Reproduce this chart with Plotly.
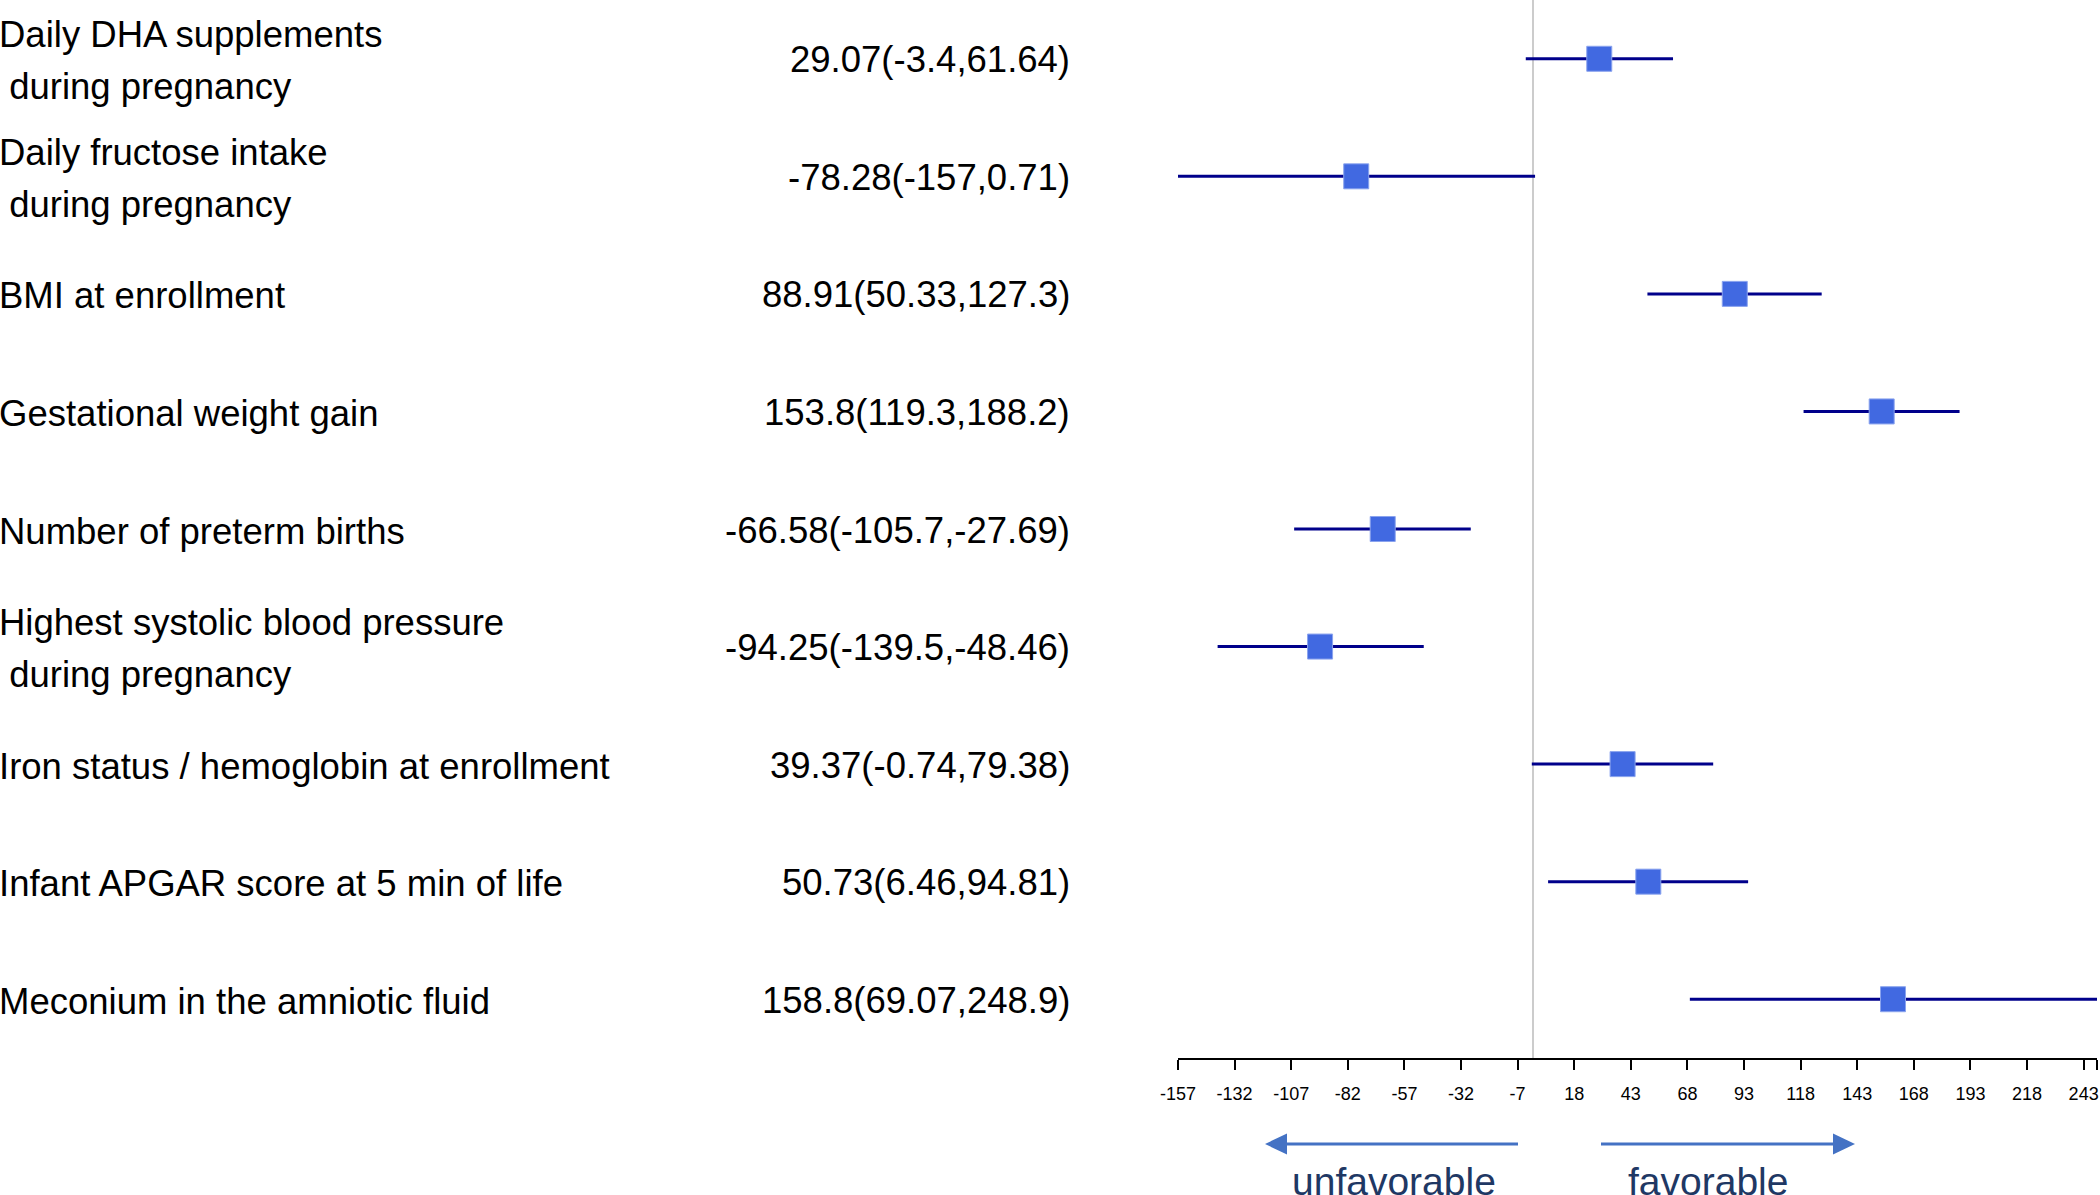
import plotly.graph_objects as go

# ---------------- data ----------------
labels = [
    "Daily DHA supplements\n\u00a0during pregnancy",
    "Daily fructose intake\n\u00a0during pregnancy",
    "BMI at enrollment",
    "Gestational weight gain",
    "Number of preterm births",
    "Highest systolic blood pressure\n\u00a0during pregnancy",
    "Iron status / hemoglobin at enrollment",
    "Infant APGAR score at 5 min of life",
    "Meconium in the amniotic fluid",
]
estimate = [29.07, -78.28, 88.91, 153.8, -66.58, -94.25, 39.37, 50.73, 158.8]
lower = [-3.4, -157, 50.33, 119.3, -105.7, -139.5, -0.74, 6.46, 69.07]
upper = [61.64, 0.71, 127.3, 188.2, -27.69, -48.46, 79.38, 94.81, 248.9]

tick_values = [-157, -132, -107, -82, -57, -32, -7, 18, 43, 68, 93, 118, 143, 168, 193, 218, 243, 248.9]
tick_labels = ["-157", "-132", "-107", "-82", "-57", "-32", "-7", "18", "43", "68", "93",
               "118", "143", "168", "193", "218", "243", ""]
x_range = [-157, 248.9]

# ---------------- layout geometry ----------------
W, H = 2100, 1195
ML, MR, MT, MB = 1178, 3, 0, 137
PW = W - ML - MR
PH = H - MT - MB
FONT = "Liberation Sans, Arial, sans-serif"


def px2x(px):
    return (px - ML) / PW


def px2y(py):
    return (MT + PH - py) / PH


rows = list(range(len(labels)))
ci_text = [f"{e:g}({lo:g},{hi:g})" for e, lo, hi in zip(estimate, lower, upper)]

fig = go.Figure()
fig.add_trace(go.Scatter(
    x=estimate, y=rows, mode="markers",
    marker=dict(symbol="square", size=25, color="#4169E1",
                line=dict(color="#8aa3ee", width=1)),
    error_x=dict(type="data", symmetric=False,
                 array=[u - e for u, e in zip(upper, estimate)],
                 arrayminus=[e - l for e, l in zip(estimate, lower)],
                 width=0, thickness=3, color="#00008B"),
    cliponaxis=False, showlegend=False, hoverinfo="skip",
))

annotations = []
for i, (lab, txt) in enumerate(zip(labels, ci_text)):
    lines = lab.split("\n")
    if len(lines) == 1:
        shifts = [-2]
    else:
        shifts = [24, -28]
    for ln, sh in zip(lines, shifts):
        annotations.append(dict(
            x=px2x(-3), xref="paper", y=i, yref="y", yshift=sh,
            text=ln, showarrow=False, xanchor="left", yanchor="middle",
            font=dict(family=FONT, size=36.5, color="black"),
        ))
    annotations.append(dict(
        x=px2x(1072), xref="paper", y=i, yref="y", yshift=-1,
        text=txt, showarrow=False, xanchor="right", yanchor="middle",
        font=dict(family=FONT, size=36.5, color="black"),
    ))

# direction captions
for txt, cx in [("unfavorable", 1394), ("favorable", 1708)]:
    annotations.append(dict(
        x=px2x(cx), xref="paper", y=px2y(1181), yref="paper",
        text=txt, showarrow=False, xanchor="center", yanchor="middle",
        font=dict(family=FONT, size=39, color="#1F3864"),
    ))

arrow_col = "#4472C4"
ay = 1144
shapes = [
    # left arrow
    dict(type="line", xref="paper", yref="paper",
         x0=px2x(1518), x1=px2x(1284), y0=px2y(ay), y1=px2y(ay),
         line=dict(color=arrow_col, width=3)),
    dict(type="path", xref="paper", yref="paper",
         path=f"M {px2x(1265)} {px2y(ay)} L {px2x(1287)} {px2y(ay - 10.5)} "
              f"L {px2x(1287)} {px2y(ay + 10.5)} Z",
         fillcolor=arrow_col, line=dict(color=arrow_col, width=0)),
    # right arrow
    dict(type="line", xref="paper", yref="paper",
         x0=px2x(1601), x1=px2x(1835), y0=px2y(ay), y1=px2y(ay),
         line=dict(color=arrow_col, width=3)),
    dict(type="path", xref="paper", yref="paper",
         path=f"M {px2x(1855)} {px2y(ay)} L {px2x(1833)} {px2y(ay - 10.5)} "
              f"L {px2x(1833)} {px2y(ay + 10.5)} Z",
         fillcolor=arrow_col, line=dict(color=arrow_col, width=0)),
]

fig.update_layout(
    width=W, height=H,
    margin=dict(l=ML, r=MR, t=MT, b=MB, pad=0),
    paper_bgcolor="white", plot_bgcolor="white",
    annotations=annotations, shapes=shapes,
    font=dict(family=FONT, color="black"),
    xaxis=dict(range=x_range, tickvals=tick_values, ticktext=tick_labels,
               showgrid=False, zeroline=True, zerolinecolor="#cccccc", zerolinewidth=2,
               showline=True, linecolor="black", linewidth=2,
               ticks="outside", ticklen=10, tickwidth=2, tickcolor="black",
               ticklabelstandoff=8,
               tickfont=dict(family=FONT, size=18, color="black"),
               fixedrange=True),
    yaxis=dict(range=[8.5, -0.5], showgrid=False, zeroline=False, showline=False,
               showticklabels=False, ticks="", fixedrange=True),
)

fig.write_html(
    "out.html",
    config={"displayModeBar": False},
    post_script="document.body.style.margin='0';document.body.style.overflow='hidden';",
)
